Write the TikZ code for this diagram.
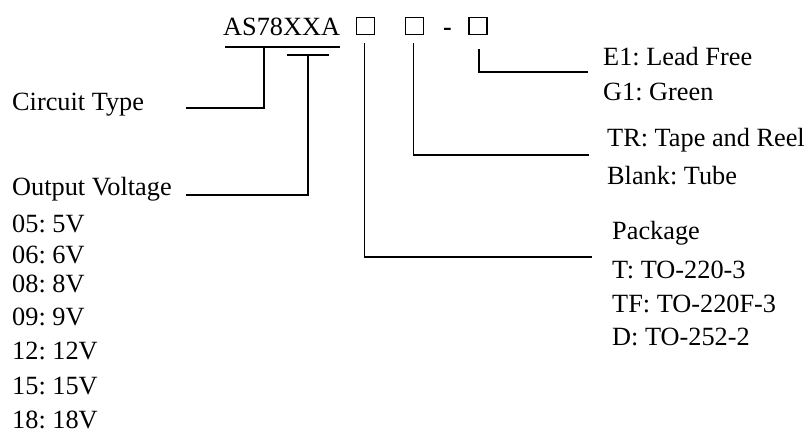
\documentclass[tikz,border=0pt]{standalone}
\usepackage{fontspec}
\setmainfont{Liberation Serif}
\frenchspacing
\begin{document}
\begin{tikzpicture}[x=1pt,y=-1pt,
  lbl/.style={anchor=base west,inner sep=0pt,font=\fontsize{26.3}{30}\selectfont},
  sq/.style={draw,line width=1.8pt,minimum width=18pt,minimum height=17pt,inner sep=0pt},
  conn/.style={line width=1.8pt}]
\fill[white] (0,0) rectangle (809,437);
\useasboundingbox (0,0) rectangle (809,437);
% top code
\node[lbl] (code) at (223,35) {AS78XXA};
\node[sq] (b1) at (365.5,26) {};
\node[sq] (b2) at (414.5,26) {};
\node[anchor=base,inner sep=0pt,font=\fontsize{26}{30}\selectfont\bfseries] (dash) at (447.5,35) {-};
\node[sq] (b3) at (478,26) {};
% left labels
\node[lbl] (ct) at (12,110) {Circuit Type};
\node[lbl] (ov) at (12,195) {Output Voltage};
\node[lbl] (v05) at (12,232) {05: 5V};
\node[lbl] (v06) at (12,263) {06: 6V};
\node[lbl] (v08) at (12,292) {08: 8V};
\node[lbl] (v09) at (12,325) {09: 9V};
\node[lbl] (v12) at (12,359) {12: 12V};
\node[lbl] (v15) at (12,394) {15: 15V};
\node[lbl] (v18) at (12,428) {18: 18V};
% right labels
\node[lbl] (e1) at (603,65) {E1: Lead Free};
\node[lbl] (g1) at (603,100) {G1: Green};
\node[lbl] (tr) at (607,146) {TR: Tape and Reel};
\node[lbl] (bl) at (607,184) {Blank: Tube};
\node[lbl] (pk) at (612,239) {Package};
\node[lbl] (pt) at (612,278) {T: TO-220-3};
\node[lbl] (ptf) at (612,312) {TF: TO-220F-3};
\node[lbl] (pd) at (612,345) {D: TO-252-2};
% connector coordinates
\coordinate (ulA) at (225,47);
\coordinate (ulB) at (340,47);
\coordinate (ctTop) at (264,47);
\coordinate (ctEnd) at (186,108);
\coordinate (svA) at (287,55);
\coordinate (svB) at (329,55);
\coordinate (ovTop) at (308,55);
\coordinate (ovEnd) at (186,195);
\coordinate (b1s) at (364.5,43);
\coordinate (b1e) at (592,257);
\coordinate (b2s) at (413.5,43);
\coordinate (b2e) at (589,155);
\coordinate (b3s) at (479,49);
\coordinate (b3e) at (588,72);
% connectors
\draw[conn] (ulA) -- (ulB);
\draw[conn] (ctTop) |- (ctEnd);
\draw[conn] (svA) -- (svB);
\draw[conn] (ovTop) |- (ovEnd);
\draw[conn] (b1s) |- (b1e);
\draw[conn] (b2s) |- (b2e);
\draw[conn] (b3s) |- (b3e);
\end{tikzpicture}
\end{document}
